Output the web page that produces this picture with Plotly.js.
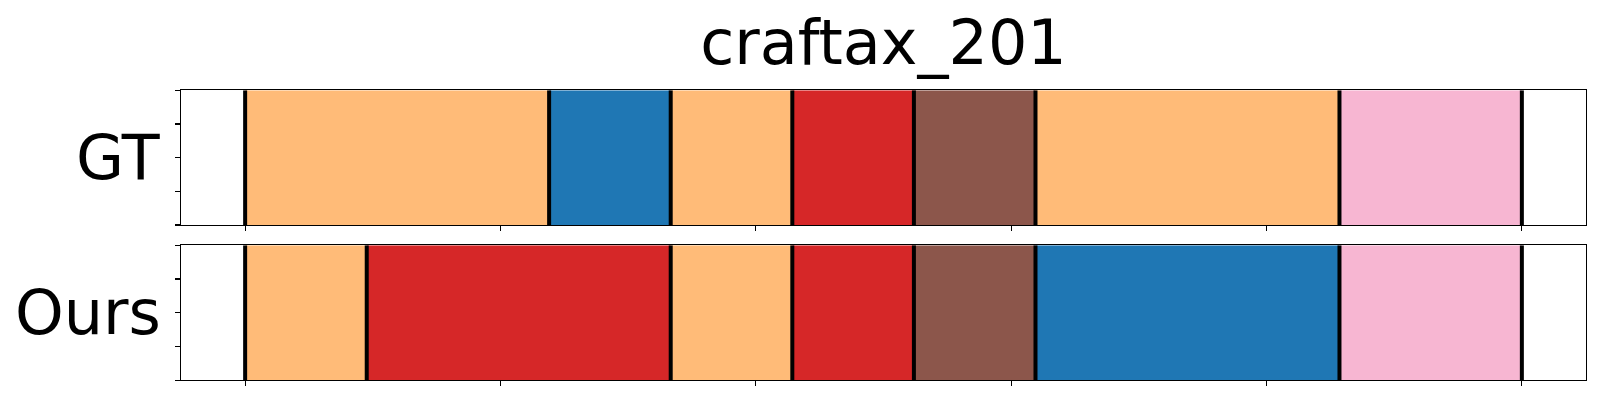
<!DOCTYPE html>
<html>
<head>
<meta charset="utf-8">
<script src="https://cdn.plot.ly/plotly-3.0.1.min.js"></script>
<style>html,body{margin:0;padding:0;background:#fff;}#chart{width:1600px;height:400px;}</style>
</head>
<body>
<div id="chart"></div>
<script>
// Data: step-level segments (21 steps total)
const titleText = "craftax_201";
const rowLabels = ["GT", "Ours"];
const gtLengths = [5, 2, 2, 2, 2, 5, 3];
const gtActions = ["orange", "blue", "orange", "red", "brown", "orange", "pink"];
const oursLengths = [2, 5, 2, 2, 2, 5, 3];
const oursActions = ["orange", "red", "orange", "red", "brown", "blue", "pink"];

const palette = {
  orange: "#ffbb78",
  blue: "#1f77b4",
  red: "#d62728",
  brown: "#8c564b",
  pink: "#f7b6d2"
};

function buildRow(lengths, actions, xa, ya) {
  const starts = [];
  let acc = 0;
  lengths.forEach(l => { starts.push(acc); acc += l; });
  const total = acc;
  const bars = {
    type: "bar", orientation: "h",
    x: lengths, base: starts, y: lengths.map(() => 0.5), width: 1,
    marker: { color: actions.map(a => palette[a]), line: { width: 0 } },
    xaxis: xa, yaxis: ya, hoverinfo: "skip", showlegend: false
  };
  const bx = [], by = [];
  starts.concat([total]).forEach(b => { bx.push(b, b, null); by.push(0, 1, null); });
  const lines = {
    type: "scatter", mode: "lines", x: bx, y: by,
    line: { color: "#000", width: 4 },
    xaxis: xa, yaxis: ya, hoverinfo: "skip", showlegend: false
  };
  return { traces: [bars, lines], total };
}

const r1 = buildRow(gtLengths, gtActions, "x", "y");
const r2 = buildRow(oursLengths, oursActions, "x2", "y2");
const N = r1.total;
const xticks = [0, 1, 2, 3, 4, 5].map(k => N * k / 5);

const W = 1600, H = 400;
const xl = 181.3 / W, xr = 1585.7 / W;
const xAxisBase = {
  domain: [xl, xr], range: [-0.05 * N, 1.05 * N],
  showgrid: false, zeroline: false, showline: true, mirror: true,
  linecolor: "#000", linewidth: 1.1,
  ticks: "outside", ticklen: 5, tickwidth: 1.1, tickcolor: "#000",
  tickvals: xticks, showticklabels: false, fixedrange: true
};
const yAxisBase = {
  range: [0, 1], showgrid: false, zeroline: false, showline: true, mirror: true,
  linecolor: "#000", linewidth: 1.1,
  ticks: "outside", ticklen: 5, tickwidth: 1.1, tickcolor: "#000",
  tickvals: [0, 0.25, 0.5, 0.75, 1], showticklabels: false, fixedrange: true
};

const gtDom = [1 - 225 / H, 1 - 90.3 / H];
const oursDom = [1 - 380.3 / H, 1 - 245.3 / H];
const fs = 62;

const layout = {
  width: W, height: H,
  margin: { l: 0, r: 0, t: 0, b: 0 },
  paper_bgcolor: "#fff", plot_bgcolor: "#fff",
  font: { family: "DejaVu Sans", color: "#000" },
  barmode: "overlay",
  showlegend: false,
  title: {
    text: titleText, font: { size: 62, family: "DejaVu Sans", color: "#000" },
    x: (xl + xr) / 2, xanchor: "center", xref: "paper",
    y: 1 - 42 / H, yanchor: "middle", yref: "container"
  },
  xaxis: Object.assign({}, xAxisBase, { anchor: "y" }),
  yaxis: Object.assign({}, yAxisBase, { domain: gtDom, anchor: "x" }),
  xaxis2: Object.assign({}, xAxisBase, { anchor: "y2" }),
  yaxis2: Object.assign({}, yAxisBase, { domain: oursDom, anchor: "x2" }),
  annotations: [
    { text: rowLabels[0], xref: "paper", yref: "paper", x: 163 / W, y: (gtDom[0] + gtDom[1]) / 2,
      xanchor: "right", yanchor: "middle", showarrow: false, font: { size: fs, family: "DejaVu Sans", color: "#000" } },
    { text: rowLabels[1], xref: "paper", yref: "paper", x: 163 / W, y: (oursDom[0] + oursDom[1]) / 2,
      xanchor: "right", yanchor: "middle", showarrow: false, font: { size: fs, family: "DejaVu Sans", color: "#000" } }
  ]
};

Plotly.newPlot("chart", r1.traces.concat(r2.traces), layout, { staticPlot: true, displayModeBar: false });
</script>
</body>
</html>
